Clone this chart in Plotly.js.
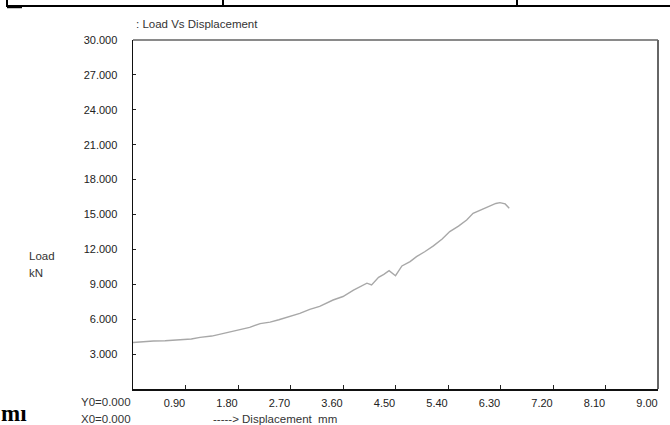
<!DOCTYPE html>
<html>
<head>
<meta charset="utf-8">
<script src="https://cdn.plot.ly/plotly-3.0.1.min.js"></script>
<style>html,body{margin:0;padding:0;background:#fff;}#chart{width:670px;height:425px;}</style>
</head>
<body>
<div id="chart"></div>
<script>
// Data
const displacement = [0, 0.15, 0.35, 0.55, 0.8, 1.0, 1.15, 1.35, 1.61, 1.85, 2.0, 2.18, 2.35, 2.5, 2.64, 2.86, 3.03, 3.2, 3.43, 3.6, 3.78, 3.9, 4.01, 4.09, 4.21, 4.3, 4.39, 4.50, 4.61, 4.75, 4.86, 5.0, 5.15, 5.3, 5.43, 5.58, 5.72, 5.83, 5.92, 6.01, 6.15, 6.22, 6.29, 6.38, 6.45];
const load = [4.0, 4.08, 4.13, 4.15, 4.2, 4.3, 4.44, 4.55, 4.84, 5.1, 5.3, 5.62, 5.75, 5.95, 6.16, 6.5, 6.85, 7.1, 7.65, 7.95, 8.5, 8.8, 9.1, 8.95, 9.6, 9.85, 10.17, 9.74, 10.58, 10.95, 11.38, 11.8, 12.3, 12.9, 13.53, 14.0, 14.53, 15.1, 15.3, 15.53, 15.82, 15.95, 16.02, 15.91, 15.53];
const xTicks = [0.9, 1.8, 2.7, 3.6, 4.5, 5.4, 6.3, 7.2, 8.1, 9.0];
const yTicks = [3, 6, 9, 12, 15, 18, 21, 24, 27, 30];
const titleText = ': Load Vs Displacement';
const yLabel1 = 'Load';
const yLabel2 = 'kN';
const y0Text = 'Y0=0.000';
const x0Text = 'X0=0.000';
const xLabel = '-----&gt; Displacement  mm';

const font = 'Liberation Sans, Arial, sans-serif';
const txt = '#222';

const trace = {
  x: displacement, y: load, type: 'scatter', mode: 'lines',
  line: {color: '#a8a8a8', width: 1.4},
  hoverinfo: 'skip'
};

const annFont = {family: font, size: 11.5, color: '#333'};

const layout = {
  width: 670, height: 425, autosize: false,
  margin: {l: 133, r: 12, t: 40, b: 36, pad: 0},
  paper_bgcolor: '#fff', plot_bgcolor: '#fff',
  showlegend: false,
  font: {family: font, size: 11, color: txt},
  title: {text: titleText, x: 136/670, xanchor: 'left', y: 1 - 23.5/425, yanchor: 'middle', yref: 'container',
          font: {family: font, size: 11.5, color: '#333'}},
  xaxis: {
    range: [0, 9], tickvals: xTicks, tickformat: '.2f',
    ticks: 'inside', ticklen: 4, tickcolor: '#222', tickwidth: 1,
    showgrid: false, zeroline: false, showline: true, linecolor: '#111', linewidth: 1.5,
    ticklabelshift: -11, ticklabelstandoff: 3,
    tickfont: {family: font, size: 11, color: txt}, fixedrange: true
  },
  yaxis: {
    range: [0, 30], tickvals: yTicks, tickformat: '.3f',
    ticks: 'inside', ticklen: 3, tickcolor: '#222', tickwidth: 1,
    showgrid: false, zeroline: false, showline: true, linecolor: '#111', linewidth: 1.5,
    ticklabelstandoff: 12,
    tickfont: {family: font, size: 11, color: txt}, fixedrange: true
  },
  shapes: [
    // plot frame: gray top, dark right
    {type: 'line', xref: 'paper', yref: 'paper', x0: 0, x1: 1, y0: 1, y1: 1, line: {color: '#8a8a8a', width: 2}},
    {type: 'line', xref: 'paper', yref: 'paper', x0: 1, x1: 1, y0: 0, y1: 1, line: {color: '#666', width: 2}},
    // table fragment at top of page
    {type: 'line', xref: 'paper', yref: 'paper', x0: -0.24, x1: 1.03, y0: 1.0974, y1: 1.0974, line: {color: '#000', width: 2}},
    {type: 'line', xref: 'paper', yref: 'paper', x0: -0.24, x1: -0.2114, y0: 1.0946, y1: 1.0946, line: {color: '#000', width: 2.5}},
    {type: 'line', xref: 'paper', yref: 'paper', x0: -0.24, x1: -0.24, y0: 1.0946, y1: 1.12, line: {color: '#000', width: 2}},
    {type: 'line', xref: 'paper', yref: 'paper', x0: 0.1714, x1: 0.1714, y0: 1.0974, y1: 1.12, line: {color: '#000', width: 2}},
    {type: 'line', xref: 'paper', yref: 'paper', x0: 0.7314, x1: 0.7314, y0: 1.0974, y1: 1.12, line: {color: '#000', width: 2}}
  ],
  annotations: [
    {text: yLabel1, xref: 'paper', yref: 'paper', x: (27-133)/525, y: (389-256)/349, xanchor: 'left', yanchor: 'middle', showarrow: false, font: annFont},
    {text: yLabel2, xref: 'paper', yref: 'paper', x: (27-133)/525, y: (389-273)/349, xanchor: 'left', yanchor: 'middle', showarrow: false, font: annFont},
    {text: y0Text, xref: 'paper', yref: 'paper', x: 0, y: (389-402)/349, xanchor: 'right', yanchor: 'middle', showarrow: false, font: annFont},
    {text: x0Text, xref: 'paper', yref: 'paper', x: (79-133)/525, y: (389-419)/349, xanchor: 'left', yanchor: 'middle', showarrow: false, font: annFont},
    {text: xLabel, xref: 'paper', yref: 'paper', x: (211-133)/525, y: (389-419)/349, xanchor: 'left', yanchor: 'middle', showarrow: false, font: annFont},
    {text: '<b>m\u0131</b>', xref: 'paper', yref: 'paper', x: (-1-133)/525, y: (389-413)/349, xanchor: 'left', yanchor: 'middle', showarrow: false, font: {family: 'Liberation Serif, Times New Roman, serif', size: 23, color: '#000'}}
  ]
};

Plotly.newPlot('chart', [trace], layout, {staticPlot: true, displayModeBar: false});
</script>
</body>
</html>
